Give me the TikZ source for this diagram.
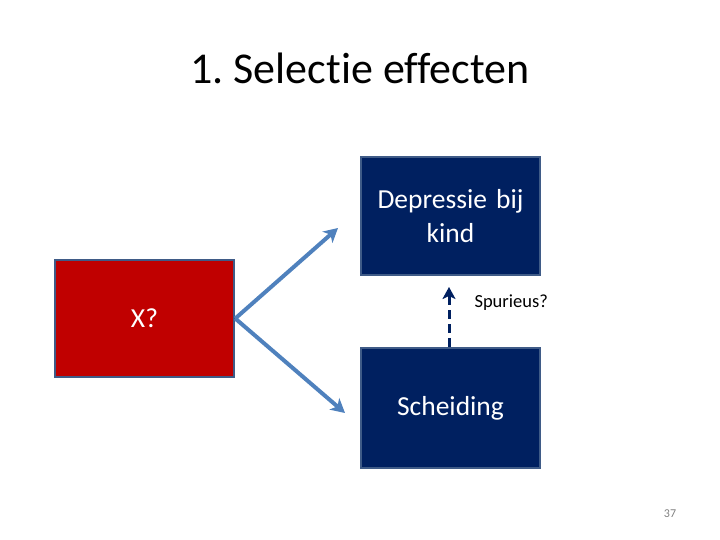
\documentclass[tikz,border=0pt]{standalone}
\usepackage{fontspec}
\setmainfont{Carlito}[Ligatures=NoCommon]
\usepackage{xcolor}
\usetikzlibrary{arrows.meta, positioning}
\definecolor{boxred}{HTML}{C00000}
\definecolor{boxnavy}{HTML}{002060}
\definecolor{boxedge}{HTML}{3F5B87}
\definecolor{arrowblue}{HTML}{4F81BD}
\frenchspacing

\begin{document}
\begin{tikzpicture}[x=1pt, y=-1pt]
    \tikzstyle{factor} = [rectangle, draw=boxedge, line width=2.5pt, text=white, text width=170pt, align=center, minimum width=179pt, font=\fontsize{27.5}{34}\selectfont]
    \tikzstyle{link} = [draw=arrowblue, line width=4pt, -{Stealth[length=14pt, width=15pt, inset=4pt]}]
    \tikzstyle{spur} = [draw=boxnavy, line width=3pt, dash pattern=on 9pt off 5pt, -{Stealth[length=12pt, width=13pt, inset=3pt]}]

    \useasboundingbox (0,0) rectangle (720,540);

    \node [font=\fontsize{44}{48}\selectfont] (title) at (360,68) {1. Selectie effecten};

    \node [factor, fill=boxred, minimum height=117pt] (x) at (144.5,318.5) {X?};
    \node [factor, fill=boxnavy, minimum height=118pt] (depressie) at (450.5,216) {Depressie bij\\kind};
    \node [factor, fill=boxnavy, minimum height=120pt] (scheiding) at (450.5,408) {Scheiding};

    \coordinate (up) at (338,228);
    \coordinate (down) at (345,413);
    \coordinate (spurtip) at (449,287);

    \path [link] (x.east) -- (up);
    \path [link] (x.east) -- (down);
    \path [spur] (scheiding.north -| spurtip) -- (spurtip);

    \node [anchor=west, font=\fontsize{18.5}{20}\selectfont] (spurlabel) at (471,303) {Spurieus?};
    \node [text=gray, font=\fontsize{12}{14}\selectfont] (page) at (670,514) {37};
\end{tikzpicture}
\end{document}
